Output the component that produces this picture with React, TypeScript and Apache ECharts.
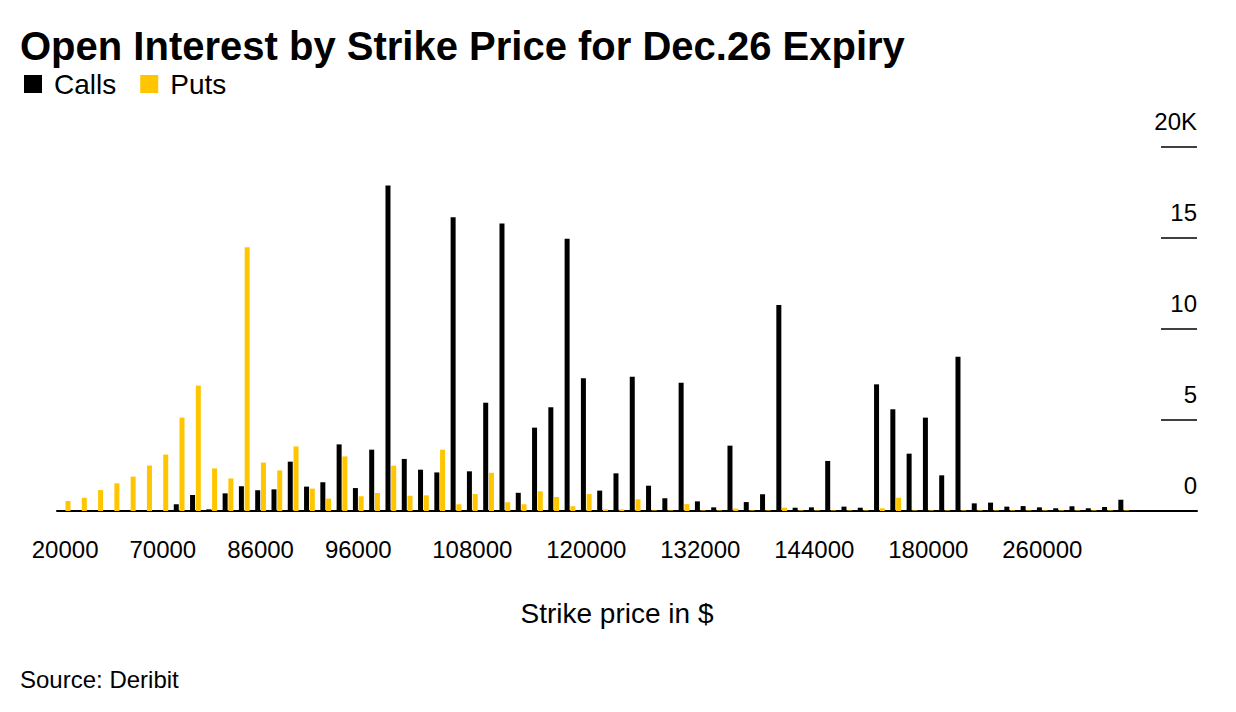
import { useEffect, useRef } from "react";
import * as echarts from "echarts";

const strikes = [
  "20000", "30000", "40000", "50000", "55000", "60000",
  "70000", "74000", "75000", "78000", "80000", "84000",
  "86000", "88000", "90000", "92000", "94000", "95000",
  "96000", "98000", "100000", "102000", "104000", "105000", "106000",
  "108000", "110000", "112000", "114000", "115000", "116000", "118000",
  "120000", "122000", "124000", "125000", "126000", "128000", "130000",
  "132000", "134000", "135000", "136000", "138000", "140000", "142000",
  "144000", "145000", "150000", "155000", "160000", "170000", "175000",
  "180000", "190000", "200000", "210000", "220000", "230000", "240000",
  "260000", "280000", "300000", "320000", "340000", "360000", "380000",
  "400000", "420000", "450000",
];

const calls = [
  0, 0, 0, 0, 0, 0.05, 0, 0.37, 0.88, 0.09, 0.97, 1.36,
  1.14, 1.19, 2.71, 1.34, 1.58, 3.66, 1.26, 3.37, 17.88, 2.86, 2.27, 2.12, 16.14,
  2.18, 5.95, 15.8, 1.0, 4.58, 5.7, 14.96, 7.29, 1.12, 2.07, 7.38, 1.39, 0.7, 7.05,
  0.53, 0.2, 3.59, 0.49, 0.92, 11.32, 0.18, 0.2, 2.75, 0.24, 0.18, 6.96, 5.59, 3.15,
  5.13, 1.96, 8.48, 0.42, 0.46, 0.24, 0.27, 0.2, 0.15, 0.26, 0.15, 0.22, 0.62,
  0, 0, 0, 0,
];

const puts = [
  0.55, 0.73, 1.15, 1.52, 1.89, 2.5, 3.1, 5.13, 6.89, 2.34, 1.79, 14.49,
  2.66, 2.23, 3.55, 1.23, 0.68, 3.0, 0.81, 0.99, 2.49, 0.84, 0.86, 3.37, 0.37,
  0.93, 2.1, 0.48, 0.37, 1.08, 0.77, 0.26, 0.93, 0.09, 0.09, 0.64, 0.03, 0.03, 0.38,
  0.03, 0.03, 0.13, 0.03, 0.03, 0.18, 0.03, 0.03, 0.03, 0.03, 0.03, 0.15, 0.73, 0.03,
  0.03, 0.03, 0.03, 0.03, 0.03, 0.03, 0.03, 0.03, 0.03, 0.03, 0.03, 0.03, 0.03,
  0, 0, 0, 0,
];

const labelIdx = [0, 6, 12, 18, 25, 32, 39, 46, 53, 60];
const yLabels: Record<number, string> = { 0: "0", 5: "5", 10: "10", 15: "15", 20: "20K" };

const FONT = "'Liberation Sans', Arial, sans-serif";

export default function App() {
  const chartRef = useRef<HTMLDivElement>(null);

  useEffect(() => {
    document.body.style.margin = "0";
    if (!chartRef.current) return;
    const chart = echarts.init(chartRef.current, null, { renderer: "svg" });
    chart.setOption({
      animation: false,
      textStyle: { fontFamily: FONT, color: "#000" },
      title: [
        {
          text: "Open Interest by Strike Price for Dec.26 Expiry",
          left: 15,
          top: 21,
          textStyle: { fontSize: 40, fontWeight: "bold", color: "#000", fontFamily: FONT },
        },
        {
          text: "Source: Deribit",
          left: 15,
          top: 662,
          textStyle: { fontSize: 24, fontWeight: "normal", color: "#000", fontFamily: FONT },
        },
      ],
      legend: {
        left: 19,
        top: 65,
        icon: "rect",
        itemWidth: 18,
        itemHeight: 18,
        itemGap: 24,
        textStyle: { fontSize: 28, color: "#000", fontFamily: FONT, padding: [0, 0, 0, 7] },
        data: ["Calls", "Puts"],
      },
      grid: { left: 57, right: 39, top: 147, bottom: 201 },
      xAxis: {
        type: "category",
        data: strikes,
        name: "Strike price in $",
        nameLocation: "middle",
        nameGap: 88,
        nameTextStyle: { fontSize: 28, color: "#000", fontFamily: FONT, padding: [0, 20, 0, 0] },
        axisLine: { lineStyle: { color: "#000", width: 2 } },
        axisTick: {
          alignWithLabel: true,
          interval: (i: number) => labelIdx.includes(i),
          length: 10,
          lineStyle: { color: "#000", width: 1 },
        },
        axisLabel: {
          interval: (i: number) => labelIdx.includes(i),
          fontSize: 24,
          color: "#000",
          margin: 26,
          fontFamily: FONT,
        },
      },
      yAxis: {
        type: "value",
        position: "right",
        min: 0,
        max: 20,
        interval: 5,
        splitLine: { show: false },
        axisLine: { show: false },
        axisTick: { show: true, inside: true, length: 36, lineStyle: { color: "#000", width: 1.5 } },
        axisLabel: {
          inside: true,
          margin: 0,
          verticalAlign: "bottom",
          padding: [0, 0, 14, 0],
          fontSize: 24,
          color: "#000",
          fontFamily: FONT,
          formatter: (v: number) => yLabels[v] ?? "",
        },
      },
      series: [
        {
          name: "Calls",
          type: "bar",
          data: calls,
          barWidth: 5,
          barGap: "15%",
          itemStyle: { color: "#000" },
        },
        {
          name: "Puts",
          type: "bar",
          data: puts,
          barWidth: 5,
          itemStyle: { color: "#ffc600" },
        },
      ],
    });
    return () => chart.dispose();
  }, []);

  return <div ref={chartRef} style={{ width: 1236, height: 712 }} />;
}
